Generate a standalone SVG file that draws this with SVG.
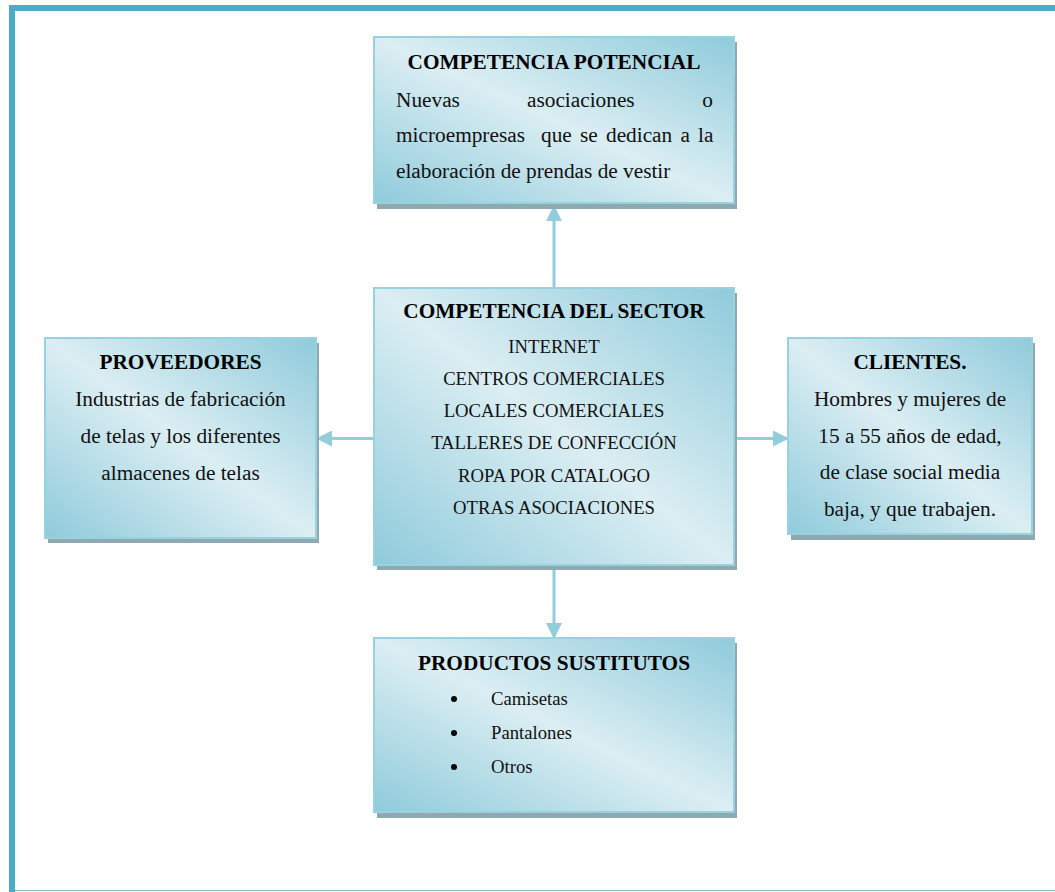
<svg xmlns="http://www.w3.org/2000/svg" width="1055" height="892" viewBox="0 0 1055 892">
  <defs>
    <linearGradient id="boxFill" x1="1" y1="0" x2="0" y2="1">
      <stop offset="0" stop-color="#8fcbdb"/>
      <stop offset="0.5" stop-color="#dbeef3"/>
      <stop offset="1" stop-color="#8fcbdb"/>
    </linearGradient>
    <marker id="arrow" viewBox="0 0 16 16" refX="15" refY="8" markerWidth="16" markerHeight="16" markerUnits="userSpaceOnUse" orient="auto">
      <path d="M0,0 L16,8 L0,16 Z" fill="#92cddc"/>
    </marker>
  </defs>
  <style>
    .shadow { fill: #8fa9b1; }
    .box { fill: url(#boxFill); stroke: #98d2e0; stroke-width: 2; }
    .title { font-family: "Liberation Serif", "Times New Roman", serif; font-weight: bold; font-size: 21.3px; fill: #000; text-anchor: middle; }
    .body { font-family: "Liberation Serif", "Times New Roman", serif; font-size: 21.3px; fill: #111; }
    .item { font-family: "Liberation Serif", "Times New Roman", serif; font-size: 18.7px; fill: #111; }
    .mid { text-anchor: middle; }
    .link { stroke: #92cddc; stroke-width: 3; fill: none; marker-end: url(#arrow); }
  </style>

  <rect width="1055" height="892" fill="#ffffff"/>

  <!-- page frame -->
  <g id="frame">
    <rect x="9" y="5" width="1046" height="6" fill="#4bacc6"/>
    <rect x="9" y="5" width="6" height="887" fill="#4bacc6"/>
    <line x1="15" y1="890.5" x2="1055" y2="890.5" stroke="#8db3bf" stroke-width="1.2"/>
  </g>

  <!-- connectors -->
  <g id="connectors">
    <line class="link" x1="554" y1="288" x2="554" y2="206"/>
    <line class="link" x1="554" y1="566" x2="554" y2="638"/>
    <line class="link" x1="374" y1="438.5" x2="317" y2="438.5"/>
    <line class="link" x1="734" y1="438.5" x2="788" y2="438.5"/>
  </g>

  <g id="competencia-potencial">
    <rect class="shadow" x="377" y="42" width="360" height="167"/>
    <rect class="box" x="374" y="37" width="360" height="166"/>
    <text class="title" x="554" y="69">COMPETENCIA POTENCIAL</text>
    <!-- justified paragraph: words placed one by one -->
    <text class="body" y="107"><tspan x="396">Nuevas</tspan><tspan x="527">asociaciones</tspan></text>
    <text class="body" x="713" y="107" text-anchor="end">o</text>
    <text class="body" y="142"><tspan x="396">microempresas</tspan><tspan x="541">que</tspan><tspan x="580">se</tspan><tspan x="606">dedican</tspan><tspan x="680.5">a</tspan><tspan x="698">la</tspan></text>
    <text class="body" x="396" y="178">elaboración de prendas de vestir</text>
  </g>

  <g id="competencia-sector">
    <rect class="shadow" x="377" y="293" width="360" height="277"/>
    <rect class="box" x="374" y="288" width="360" height="277"/>
    <text class="title" x="554" y="318">COMPETENCIA DEL SECTOR</text>
    <text class="item mid" x="554" y="353">INTERNET</text>
    <text class="item mid" x="554" y="385">CENTROS COMERCIALES</text>
    <text class="item mid" x="554" y="417">LOCALES COMERCIALES</text>
    <text class="item mid" x="554" y="449">TALLERES DE CONFECCIÓN</text>
    <text class="item mid" x="554" y="482">ROPA POR CATALOGO</text>
    <text class="item mid" x="554" y="514">OTRAS ASOCIACIONES</text>
  </g>

  <g id="proveedores">
    <rect class="shadow" x="48" y="343" width="271" height="200"/>
    <rect class="box" x="45" y="338" width="271" height="200"/>
    <text class="title" x="180.5" y="369">PROVEEDORES</text>
    <text class="body mid" x="180.5" y="406">Industrias de fabricación</text>
    <text class="body mid" x="180.5" y="443">de telas y los diferentes</text>
    <text class="body mid" x="180.5" y="480">almacenes de telas</text>
  </g>

  <g id="clientes">
    <rect class="shadow" x="791" y="343" width="244" height="197"/>
    <rect class="box" x="788" y="338" width="244" height="196"/>
    <text class="title" x="910" y="369">CLIENTES.</text>
    <text class="body mid" x="910" y="406">Hombres y mujeres de</text>
    <text class="body mid" x="910" y="443">15 a 55 años de edad,</text>
    <text class="body mid" x="910" y="479">de clase social media</text>
    <text class="body mid" x="910" y="516">baja, y que trabajen.</text>
  </g>

  <g id="productos-sustitutos">
    <rect class="shadow" x="377" y="643" width="360" height="175"/>
    <rect class="box" x="374" y="638" width="360" height="174"/>
    <text class="title" x="554" y="670">PRODUCTOS SUSTITUTOS</text>
    <circle cx="454" cy="699" r="3" fill="#000"/>
    <circle cx="454" cy="733" r="3" fill="#000"/>
    <circle cx="454" cy="767" r="3" fill="#000"/>
    <text class="item" x="491" y="705">Camisetas</text>
    <text class="item" x="491" y="739">Pantalones</text>
    <text class="item" x="491" y="773">Otros</text>
  </g>
</svg>
